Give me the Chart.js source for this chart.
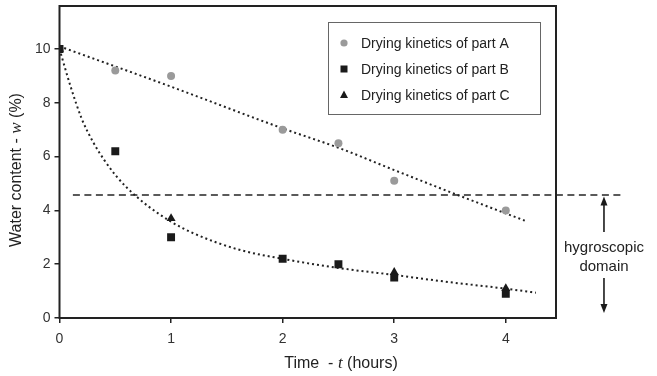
<!DOCTYPE html>
<html>
<head>
<meta charset="utf-8">
<script src="https://cdn.jsdelivr.net/npm/chart.js@4.4.1/dist/chart.umd.min.js"></script>
<style>
html,body{margin:0;padding:0;background:#fff;}
#wrap{width:657px;height:376px;}
</style>
</head>
<body>
<div id="wrap"><canvas id="c" width="657" height="376"></canvas></div>
<script>
// ---- data ----
const timesAB = [0, 0.5, 1, 2, 2.5, 3, 4];
const partA = [10, 9.2, 9.0, 7.0, 6.5, 5.1, 4.0];
const partB = [10, 6.2, 3.0, 2.2, 2.0, 1.5, 0.9];
const timesC = [0, 1, 3, 4];
const partC = [10, 3.7, 1.7, 1.1];
const fitATimes = [0, 1, 2, 2.5, 3, 3.57, 4.17];
const fitAValues = [10.1, 8.6, 7.05, 6.33, 5.5, 4.57, 3.62];
const fitBTimes = [0, 0.1, 0.2, 0.3, 0.4, 0.5, 0.6, 0.7, 0.8, 1.0, 1.2, 1.6, 2.0, 2.5, 3.0, 3.5, 4.0, 4.27];
const fitBValues = [10.0, 8.6, 7.4, 6.55, 5.88, 5.32, 4.86, 4.48, 4.14, 3.58, 3.15, 2.55, 2.2, 1.86, 1.6, 1.33, 1.09, 0.94];
const hygroLevel = 4.57;
const hygroLineTimes = [0.12, 5.05];
const xTicks = [0, 1, 2, 3, 4];
const yTicks = [0, 2, 4, 6, 8, 10];
const legendLabels = ['Drying kinetics of part A', 'Drying kinetics of part B', 'Drying kinetics of part C'];
const annotationText = ['hygroscopic', 'domain'];

const pts = (xs, ys) => xs.map((x, i) => ({x: x, y: ys[i]}));
const FONT = '"Liberation Sans", Arial, sans-serif';

const frameAndTextPlugin = {
  id: 'frameAndText',
  afterDatasetsDraw(chart) {
    const ctx = chart.ctx;
    const a = chart.chartArea;
    const xs = chart.scales.x, ys = chart.scales.y;
    ctx.save();
    // frame
    ctx.strokeStyle = '#222';
    ctx.lineWidth = 2;
    ctx.strokeRect(a.left, a.top, a.right - a.left, a.bottom - a.top);

    // legend box
    ctx.lineWidth = 1;
    ctx.strokeStyle = '#666';
    ctx.fillStyle = '#fff';
    ctx.fillRect(328.5, 22.5, 212, 92);
    ctx.strokeRect(328.5, 22.5, 212, 92);
    const rowsY = [43, 69, 95];
    ctx.font = '14px ' + FONT;
    ctx.textBaseline = 'middle';
    ctx.textAlign = 'left';
    legendLabels.forEach((lab, i) => {
      const y = rowsY[i];
      const mx = 344;
      if (i === 0) {
        ctx.fillStyle = '#9a9a9a';
        ctx.beginPath(); ctx.arc(mx, y, 3.6, 0, Math.PI * 2); ctx.fill();
      } else if (i === 1) {
        ctx.fillStyle = '#1a1a1a';
        ctx.fillRect(mx - 3.5, y - 3.5, 7, 7);
      } else {
        ctx.fillStyle = '#1a1a1a';
        ctx.beginPath(); ctx.moveTo(mx, y - 4.5); ctx.lineTo(mx + 4, y + 3); ctx.lineTo(mx - 4, y + 3); ctx.closePath(); ctx.fill();
      }
      ctx.fillStyle = '#222';
      ctx.fillText(lab, 361, y + 1);
    });

    // hygroscopic domain arrows and text
    const ax = xs.getPixelForValue(4.88);
    const drawArrow = (yFrom, yTo) => {
      const p1 = ys.getPixelForValue(yFrom), p2 = ys.getPixelForValue(yTo);
      const dir = p2 > p1 ? 1 : -1;
      ctx.strokeStyle = '#1a1a1a';
      ctx.lineWidth = 1.6;
      ctx.beginPath(); ctx.moveTo(ax, p1); ctx.lineTo(ax, p2 - dir * 6); ctx.stroke();
      ctx.fillStyle = '#1a1a1a';
      ctx.beginPath(); ctx.moveTo(ax, p2); ctx.lineTo(ax - 3.5, p2 - dir * 9); ctx.lineTo(ax + 3.5, p2 - dir * 9); ctx.closePath(); ctx.fill();
    };
    drawArrow(3.2, hygroLevel - 0.05);
    drawArrow(1.49, 0.19);
    ctx.fillStyle = '#222';
    ctx.font = '15px ' + FONT;
    ctx.textAlign = 'center';
    ctx.fillText(annotationText[0], ax, ys.getPixelForValue(2.6));
    ctx.fillText(annotationText[1], ax, ys.getPixelForValue(1.9));

    // axis titles with italic symbols
    const drawMixed = (parts, cx, cy) => {
      let total = 0;
      parts.forEach(p => { ctx.font = p[1]; total += ctx.measureText(p[0]).width; });
      let x = cx - total / 2;
      ctx.textAlign = 'left';
      parts.forEach(p => { ctx.font = p[1]; ctx.fillText(p[0], x, cy); x += ctx.measureText(p[0]).width; });
    };
    ctx.fillStyle = '#222';
    ctx.textBaseline = 'middle';
    const nf = '16px ' + FONT, itf = 'italic 17px "Liberation Serif", "Times New Roman", serif';
    drawMixed([['Time  - ', nf], ['t', itf], [' (hours)', nf]], 341, 364);
    ctx.save();
    ctx.translate(17, 170);
    ctx.rotate(-Math.PI / 2);
    drawMixed([['Water content - ', nf], ['w', itf], [' (%)', nf]], 0, 0);
    ctx.restore();
    ctx.restore();
  }
};

const dotted = {borderColor: '#222', borderWidth: 2, borderDash: [2, 3], pointRadius: 0, fill: false, cubicInterpolationMode: 'monotone', showLine: true};

new Chart(document.getElementById('c'), {
  type: 'scatter',
  data: {
    datasets: [
      Object.assign({label: 'fitA', data: pts(fitATimes, fitAValues), order: 5}, dotted),
      Object.assign({label: 'fitB', data: pts(fitBTimes, fitBValues), order: 5}, dotted),
      {label: 'hygroscopic limit', data: pts(hygroLineTimes, hygroLineTimes.map(() => hygroLevel)), showLine: true, borderColor: '#5a5a5a', borderWidth: 2, borderDash: [7, 4.5], pointRadius: 0, clip: false, order: 6},
      {label: legendLabels[0], data: pts(timesAB, partA), pointStyle: 'circle', pointRadius: 4, backgroundColor: '#9a9a9a', borderWidth: 0, order: 3},
      {label: legendLabels[2], data: pts(timesC, partC), pointStyle: 'triangle', pointRadius: 5.2, backgroundColor: '#1a1a1a', borderWidth: 0, order: 2},
      {label: legendLabels[1], data: pts(timesAB, partB), pointStyle: 'rect', pointRadius: 5.6, backgroundColor: '#1a1a1a', borderWidth: 0, order: 1}
    ]
  },
  options: {
    responsive: false,
    animation: false,
    events: [],
    layout: {padding: {left: 0, top: 6, right: 101, bottom: 0}},
    plugins: {legend: {display: false}, tooltip: {enabled: false}},
    scales: {
      x: {
        type: 'linear', min: 0, max: 4.45,
        afterBuildTicks: s => { s.ticks = xTicks.map(v => ({value: v})); },
        afterFit: s => { s.height = 58; s.paddingLeft = 0; s.paddingRight = 0; },
        grid: {drawOnChartArea: false, drawTicks: true, tickLength: 5, color: '#222', lineWidth: 1.5},
        border: {display: false},
        ticks: {color: '#333', font: {size: 14, family: FONT}, padding: 8, maxRotation: 0}
      },
      y: {
        type: 'linear', min: 0, max: 11.6,
        afterBuildTicks: s => { s.ticks = yTicks.map(v => ({value: v})); },
        afterFit: s => { s.width = 59.5; s.paddingTop = 0; s.paddingBottom = 0; },
        grid: {drawOnChartArea: false, drawTicks: true, tickLength: 5, color: '#222', lineWidth: 1.5},
        border: {display: false},
        ticks: {color: '#333', font: {size: 14, family: FONT}, padding: 4}
      }
    }
  },
  plugins: [frameAndTextPlugin]
});
</script>
</body>
</html>
